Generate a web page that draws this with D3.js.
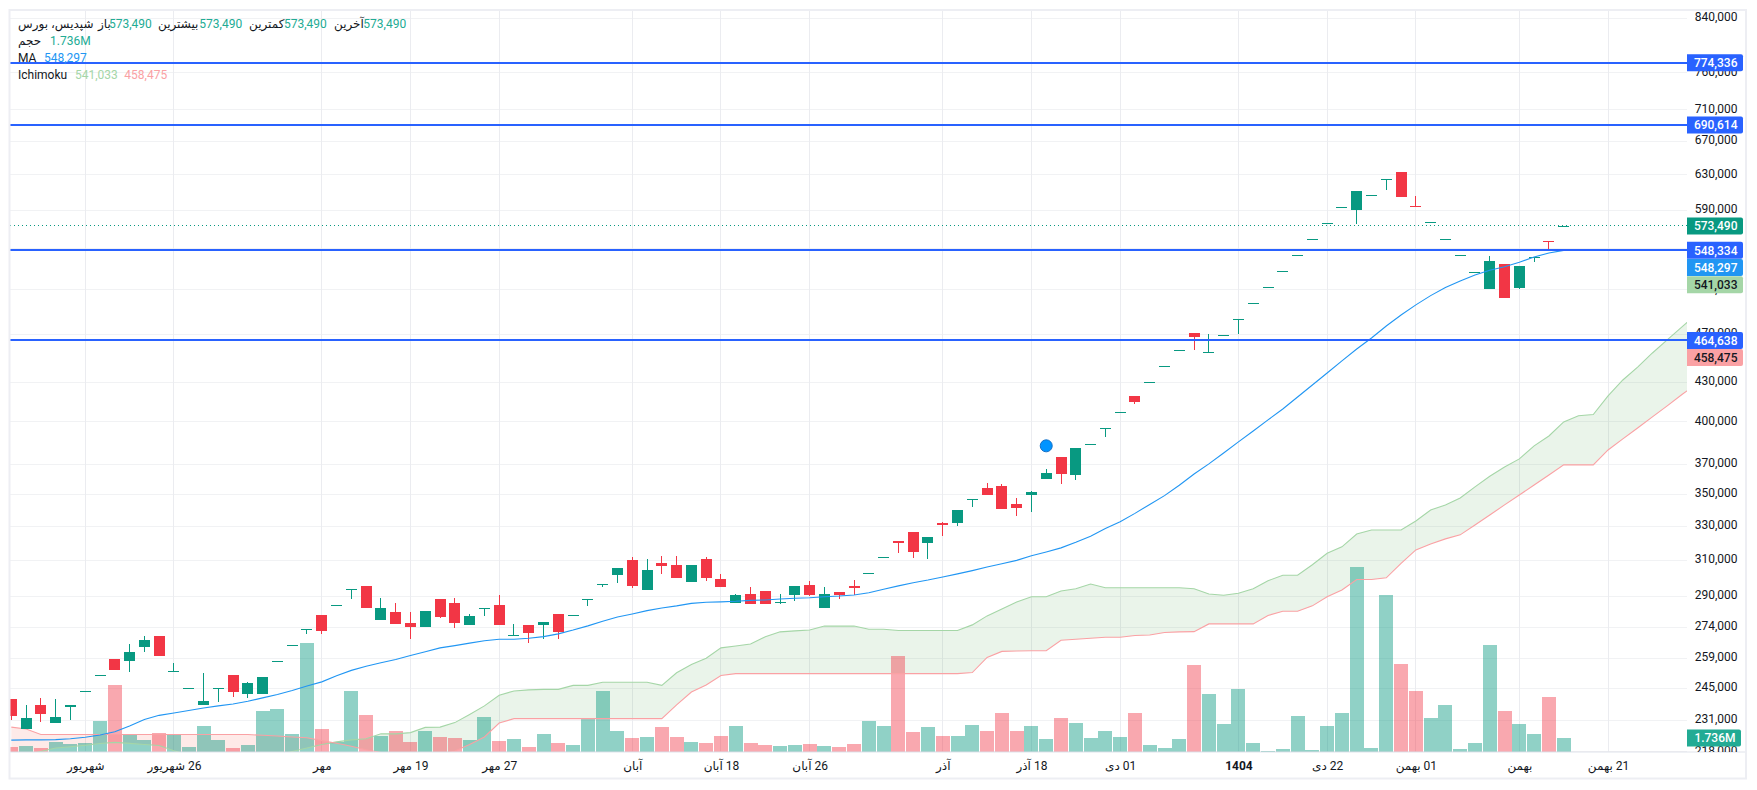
<!DOCTYPE html>
<html><head><meta charset="utf-8">
<script src="https://cdn.jsdelivr.net/npm/d3@7/dist/d3.min.js"></script>
<style>
html,body{margin:0;padding:0;background:#fff;overflow:hidden}
svg{display:block}
text{font-family:Roboto,"Noto Sans","DejaVu Sans",sans-serif}
</style></head><body><svg id="c" width="1757" height="790"></svg>
<script>
const opens=[240200,227300,237600,229800,236700,243600,251000,258600,257600,264400,
269800,252800,245000,237600,245000,251100,242400,242400,257500,265200,
273100,280400,285400,294000,295800,277800,282000,276300,274200,288700,
286600,275300,283900,285600,270100,275300,275300,280900,280300,288600,
296900,301800,310200,293600,308500,307400,297900,310800,299600,286600,
291400,293100,287000,290900,296300,284000,292500,295800,302800,311800,
321300,326600,320100,332100,332100,346900,354200,355500,343900,349600,
360100,375000,362700,383800,395300,407100,419500,430200,443000,456200,
471000,454600,469300,483000,497500,512400,527600,543400,559600,576400,
593600,590600,606900,624900,633400,594900,577500,559600,543400,526600,
510700,534600,511700,541400,557700,573490];
const highs=[240200,237600,240700,240200,237600,243600,251000,258600,265800,269800,
269800,256700,245000,252000,245000,251100,247900,250200,257500,265200,
273100,280400,285400,294000,295800,289200,286600,282000,282500,288700,
289200,280900,283900,290900,275800,275300,276800,280900,280300,288600,
296900,305700,312000,310800,312600,312600,307400,312000,302400,291400,
295300,293100,291400,295800,298500,295300,292500,299000,302800,311800,
321300,326600,323700,332700,340100,346900,357400,356800,347700,352200,
366800,375000,381200,383800,395300,407100,419500,430200,443000,456200,
471000,470100,469300,483000,497500,512400,527600,543400,559600,576400,
593600,611700,606900,624900,633400,606100,577500,559600,543400,526600,
542700,534600,532800,541400,557700,573490];
const lows=[231100,227300,230300,229800,231100,243600,251000,253400,252500,261900,
260000,252800,245000,237600,238900,241100,240700,242400,257500,265200,
270800,270800,285400,288700,284000,277800,275800,268300,274200,278800,
273700,275300,279900,275300,270100,266300,268300,268300,280300,285100,
295300,297400,294700,293600,302400,300100,297900,298500,295300,286600,
286100,286100,286100,287700,290300,284000,288700,290900,302800,311800,
314300,311400,310800,324300,330200,342000,349600,340700,336400,338900,
360100,356800,359400,383800,389000,407100,413400,430200,443000,456200,
456500,454600,469300,470100,497500,512400,527600,543400,559600,576400,
593600,575600,606900,612800,605000,594500,577500,559600,543400,526600,
510700,502300,510700,536700,549700,573490];
const closes=[232800,232000,233700,232400,237600,243600,251000,253400,261900,267800,
260000,252800,245000,239400,245000,243300,247400,250200,257500,265200,
273100,272200,285400,294000,284000,284000,275800,274200,282500,279300,
276300,279900,283900,275300,270100,271200,276800,271700,280300,288600,
296900,305700,295800,304600,306800,300100,307400,300100,295300,290900,
286100,286100,287000,295800,290900,291400,290900,294700,302800,311800,
320100,314800,323700,330800,340100,346900,349600,340700,341400,351600,
364100,363400,381200,383800,395300,407100,414900,430200,443000,456200,
467600,454600,469300,483000,497500,512400,527600,543400,559600,576400,
593600,611700,606900,624900,605000,594500,577500,559600,543400,526600,
537700,502300,532800,541400,557300,573490];
const volumes=[.62,.74,.45,1.24,.99,1.12,3.84,8.30,2.15,1.49,
2.35,2.23,.62,3.22,1.49,.50,.87,5.08,5.33,2.23,
13.5,2.85,1.24,7.56,4.58,1.98,2.60,1.24,2.60,1.86,
1.73,1.49,4.34,1.36,1.61,.62,2.23,1.12,.87,4.21,
7.56,2.60,1.73,1.86,3.10,1.86,1.24,1.12,1.98,3.22,
1.12,.87,.74,.87,.99,.74,.62,.99,3.84,3.22,
11.9,2.48,3.10,1.98,1.98,3.35,2.60,4.83,2.60,3.22,
1.61,4.21,3.59,1.73,2.60,1.86,4.83,.87,.50,1.61,
10.78,7.19,3.47,7.81,1.12,.12,.37,4.46,.25,3.22,
4.83,22.9,.50,19.45,10.9,7.56,4.21,5.82,.37,1.12,
13.26,5.08,3.47,2.23,6.81,1.736];
const maLine=[222700,222800,222800,222900,223300,223900,224800,226200,228600,231300,
233100,234100,235200,236300,237200,238000,239200,240700,242200,244000,
246000,247900,250700,253200,255100,256800,258300,260200,262000,263900,
265000,266200,267400,268100,268100,268600,269400,270800,272700,274800,
277100,279300,280900,282600,284000,285100,286400,287000,287200,287500,
288000,288200,288700,289100,289400,289900,290300,290900,292100,294000,
295800,297500,299000,300700,302400,304200,306200,308100,310000,312600,
314800,317200,320500,324100,328700,332800,338000,343600,349200,355900,
363400,370200,377700,385500,393300,401400,409500,418700,428000,437600,
447400,457300,466700,477100,486900,496000,504500,512000,518300,524100,
528600,532100,536400,541700,545700,548297];
const spanA=[216700,216700,218100,219500,220000,220600,221300,221800,221400,220900,
220500,218400,216700,216700,216700,216700,216700,216700,216700,218100,
219500,220900,222000,222800,223300,225300,225300,225800,228000,228100,
230000,233500,237200,241900,243800,244300,244500,244500,246300,246300,
247700,247700,247700,247700,246300,252100,256000,258900,263900,264800,
265800,269400,271800,272300,272700,274700,274700,274700,273100,273100,
272500,272500,272500,272500,272500,275300,279900,283500,287200,289900,
289900,293000,294200,296800,294800,294800,294800,294800,294800,294800,
294200,291400,290700,291800,294200,298600,301600,301600,307500,314100,
317800,325400,327800,327800,327800,333300,340100,343300,347700,354900,
361900,368100,373600,382700,389700,399900,404500,405400,419500,432000,
442400,454000,465000,476300,487800];
const spanB=[228100,227300,225000,225000,225000,225000,225000,225000,225000,225000,
225000,225000,225000,225000,225000,225000,225000,224700,224400,224000,
223700,222500,221400,220200,218800,217700,216700,216700,216700,216700,
218300,220900,224000,229800,231700,231700,231700,231700,231700,231700,
231700,231700,231700,231700,231700,237600,243300,246500,250800,251700,
251700,251700,251700,251700,251700,251700,251700,251700,251700,251700,
251700,251700,251700,251700,251700,252200,259300,262200,262400,262500,
262500,267600,268100,268600,269100,269100,270000,270200,271500,271800,
271900,275800,275800,275800,275800,280100,282300,282300,285100,289900,
293600,299300,299300,300200,308300,316000,319500,322500,324900,330800,
337000,343300,349600,356100,362700,369500,369500,369500,379800,387600,
395500,403600,411900,420600,428900];
const priceTicks=[840000,760000,710000,670000,630000,590000,550000,510000,470000,430000,400000,370000,350000,330000,310000,290000,274000,259000,245000,231000,218000];
const timeTickIdx=[5,11,21,27,33,42,48,54,63,69,75,83,89,95,102,108];
const timeTickLabels=["شهریور","26 شهریور","مهر","19 مهر","27 مهر","آبان","18 آبان","26 آبان","آذر","18 آذر","01 دی","1404","22 دی","01 بهمن","بهمن","21 بهمن"];
const levelPrices=[774336,690614,548334,464638];
const lastPrice=573490;
const lastVolume=1.736;
const maLast=548297, spanALast=541033, spanBLast=458475;
const markerIdx=[70], markerPrice=[382700];

const L=10,R=1687,T=10.5,B=752,F=1745.5,FB=778;
const C={teal:"#089981",red:"#F23645",blue:"#2962FF",ma:"#2196F3",a:"#A5D6A7",b:"#FAA1A4",vt:"#22AB94",txt:"#131722"};
const svg=d3.select("#c");
const x=d3.scaleLinear().domain([0,105]).range([11.3,1563.7]);
const y=d3.scaleLog().domain([840000,218700]).range([18.5,750]);
const yv=d3.scaleLinear().domain([0,lastVolume]).range([B,738]);
const defs=svg.append("defs");
defs.append("clipPath").attr("id","plot").append("rect").attr("x",L).attr("y",T).attr("width",R-L).attr("height",B-T);
defs.append("clipPath").attr("id","pa").append("rect").attr("x",R).attr("y",T).attr("width",F-R).attr("height",B-T);

// grid
const grid=svg.append("g").attr("stroke-width",1).attr("shape-rendering","crispEdges");
grid.selectAll(".h").data(priceTicks).join("line").attr("stroke","#F1F2F4").attr("x1",L).attr("x2",R).attr("y1",d=>y(d)).attr("y2",d=>y(d));
grid.selectAll(".v").data(timeTickIdx).join("line").attr("stroke","#EBECF0").attr("y1",T).attr("y2",B).attr("x1",d=>x(d)).attr("x2",d=>x(d));

const plot=svg.append("g").attr("clip-path","url(#plot)");
// cloud
const idx=d3.range(spanA.length);
plot.append("path").datum(idx).attr("fill","rgba(67,160,71,0.115)")
 .attr("d",d3.area().x(i=>x(i)).y0(i=>y(Math.min(spanA[i],spanB[i]))).y1(i=>y(spanA[i])));
plot.append("path").datum(idx).attr("fill","rgba(244,67,54,0.115)")
 .attr("d",d3.area().x(i=>x(i)).y0(i=>y(Math.min(spanA[i],spanB[i]))).y1(i=>y(spanB[i])));
// volume
const up=i=>closes[i]>=opens[i];
plot.selectAll(".vol").data(volumes).join("rect").attr("shape-rendering","crispEdges")
 .attr("x",(d,i)=>x(i)-7).attr("width",14).attr("y",d=>yv(d)).attr("height",d=>B-yv(d))
 .attr("fill",(d,i)=>up(i)?"rgba(8,153,129,0.45)":"rgba(242,54,69,0.43)");
// ichimoku lines
plot.append("path").datum(idx).attr("fill","none").attr("stroke",C.a).attr("stroke-width",1.1)
 .attr("d",d3.line().x(i=>x(i)).y(i=>y(spanA[i])));
plot.append("path").datum(idx).attr("fill","none").attr("stroke",C.b).attr("stroke-width",1.1)
 .attr("d",d3.line().x(i=>x(i)).y(i=>y(spanB[i])));
// candles
const cg=plot.append("g").attr("shape-rendering","crispEdges");
cg.selectAll(".w").data(d3.range(opens.length)).join("rect")
 .attr("x",i=>Math.floor(x(i))).attr("width",1)
 .attr("y",i=>y(highs[i])).attr("height",i=>y(lows[i])-y(highs[i]))
 .attr("fill",i=>up(i)?C.teal:C.red);
cg.selectAll(".b").data(d3.range(opens.length)).join("rect")
 .attr("x",i=>Math.round(x(i)-5.5)).attr("width",11)
 .attr("y",i=>Math.round(y(Math.max(opens[i],closes[i]))))
 .attr("height",i=>Math.max(1,Math.round(y(Math.min(opens[i],closes[i])))-Math.round(y(Math.max(opens[i],closes[i])))))
 .attr("fill",i=>up(i)?C.teal:C.red);
// MA
plot.append("path").datum(d3.range(maLine.length)).attr("fill","none").attr("stroke",C.ma).attr("stroke-width",1.1)
 .attr("d",d3.line().x(i=>x(i)).y(i=>y(maLine[i])));
// marker
plot.selectAll(".m").data(markerIdx).join("circle").attr("cx",d=>x(d)).attr("cy",(d,k)=>y(markerPrice[k])).attr("r",6)
 .attr("fill","#0094FF").attr("stroke","#1270C8").attr("stroke-width",1);
// last price dotted
svg.append("line").attr("x1",L).attr("x2",R).attr("y1",y(lastPrice)).attr("y2",y(lastPrice)).attr("shape-rendering","crispEdges")
 .attr("stroke",C.teal).attr("stroke-width",1).attr("stroke-dasharray","1 3");
// level lines
svg.selectAll(".lv").data(levelPrices).join("line").attr("x1",L).attr("x2",R).attr("y1",d=>y(d)).attr("y2",d=>y(d))
 .attr("stroke",C.blue).attr("stroke-width",2).attr("shape-rendering","crispEdges");

// frame
svg.append("line").attr("x1",L).attr("x2",F).attr("y1",B).attr("y2",B).attr("stroke","#E0E3EB").attr("stroke-width",1);
svg.append("rect").attr("x",L-0.5).attr("y",T-0.5).attr("width",F-L+1).attr("height",FB-T+1).attr("fill","none").attr("stroke","#EDEEF3").attr("stroke-width",2);

// axes
const yAxis=d3.axisRight(y).tickValues(priceTicks).tickFormat(d3.format(",")).tickSize(0);
const ya=svg.append("g").attr("clip-path","url(#pa)").append("g").attr("transform",`translate(${1737.5},-1.5)`).call(yAxis);
ya.select(".domain").remove();
ya.selectAll("text").attr("x",0).attr("text-anchor","end").attr("font-size",12).attr("fill",C.txt).attr("font-family","Roboto");
const xAxis=d3.axisBottom(x).tickValues(timeTickIdx).tickFormat((d,i)=>timeTickLabels[i]).tickSize(0);
const xa=svg.append("g").attr("transform",`translate(0,${B})`).call(xAxis);
xa.select(".domain").remove();
xa.selectAll("text").attr("y",9.3).attr("dy","0.71em").attr("font-size",12).attr("fill",C.txt)
 .attr("direction","rtl").style("direction","rtl").attr("unicode-bidi","plaintext")
 .attr("font-weight",(d,i)=>timeTickLabels[i]==="1404"?"700":"400").attr("font-family","Roboto, 'DejaVu Sans', sans-serif");

// price labels
function tag(cy,bg,fg,txt,w){
 const g=svg.append("g");
 const bw=w||56;
 g.append("path").attr("d",`M1687,${cy-8.5}h${bw-2}a2,2 0 0 1 2,2v13a2,2 0 0 1 -2,2h-${bw-2}z`).attr("fill",bg);
 g.append("text").attr("x",1737.5-(w?2:0)).attr("y",cy).attr("dy","0.36em").attr("text-anchor","end").attr("font-size",12).attr("font-weight",500).attr("fill",fg).text(txt);
}
const fmt=d3.format(",");
levelPrices.filter(d=>d!==464638&&d!==548334).forEach(d=>tag(y(d),C.blue,"#fff",fmt(d)));
tag(y(lastPrice),C.teal,"#fff",fmt(lastPrice));
tag(y(548334),C.blue,"#fff",fmt(548334));
tag(y(maLast)+17.2,C.ma,"#fff",fmt(maLast));
tag(y(maLast)+34.4,C.a,C.txt,fmt(spanALast));
tag(y(464638),C.blue,"#fff",fmt(464638));
tag(y(464638)+17,C.b,C.txt,fmt(spanBLast));
tag(yv(lastVolume),C.vt,"#fff",d3.format(".3f")(lastVolume)+"M",54);

// legend
const legend=[
 [18,24,"شپدیس، بورس",C.txt],[98,24,"باز",C.txt],[109,24,fmt(lastPrice),C.vt],[158,24,"بیشترین",C.txt],[199.3,24,fmt(lastPrice),C.vt],
 [249,24,"کمترین",C.txt],[284,24,fmt(lastPrice),C.vt],[334,24,"آخرین",C.txt],[363.3,24,fmt(lastPrice),C.vt],
 [18,41,"حجم",C.txt],[50,41,d3.format(".3f")(lastVolume)+"M",C.vt],
 [18,58,"MA",C.txt],[44,58,fmt(maLast),C.ma],
 [18,75,"Ichimoku",C.txt],[75,75,fmt(spanALast),C.a],[124.3,75,fmt(spanBLast),C.b]];
svg.append("g").selectAll("text").data(legend).join("text")
 .attr("x",d=>d[0]).attr("y",d=>d[1]).attr("dy","0.36em").attr("font-size",12).attr("fill",d=>d[3]).text(d=>d[2]);
</script></body></html>
